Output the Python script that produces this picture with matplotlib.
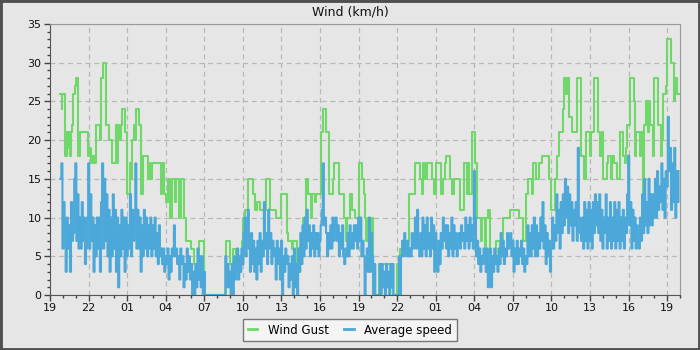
import matplotlib
matplotlib.use('Agg')
import matplotlib.pyplot as plt
from matplotlib.patches import Rectangle
from matplotlib.ticker import MultipleLocator

# hours since 19:00 on day one
tick_hours = [0, 3, 6, 9, 12, 15, 18, 21, 24, 27, 30, 33, 36, 39, 42, 45, 48]
tick_labels = ['19', '22', '01', '04', '07', '10', '13', '16', '19',
               '22', '01', '04', '07', '10', '13', '16', '19']

# wind gust: step change points (hour, km/h)
gust_hours = [0.8, 0.9, 0.97, 1.2, 1.3, 1.4, 1.5, 1.55, 1.6, 1.7, 1.75, 1.95, 2.05, 2.2, 2.35,
              2.95, 3.05, 3.2, 3.3, 3.45, 3.6, 3.85, 4.0, 4.1, 4.35, 4.6, 4.8, 5.1, 5.2, 5.3,
              5.4, 5.5, 5.6, 5.8, 5.95, 6.2, 6.3, 6.4, 6.5, 6.6, 6.7, 6.9, 7.1, 7.2, 7.6,
              7.7, 7.8, 7.9, 8.6, 8.7, 8.9, 9.0, 9.2, 9.3, 9.5, 9.7, 9.8, 10.0, 10.2, 10.4,
              10.6, 11.0, 11.2, 11.6, 12.0, 13.7, 14.0, 14.2, 14.5, 14.9, 15.0, 15.2, 15.4,
              15.8, 15.95, 16.1, 16.3, 16.8, 17.1, 17.6, 18.0, 18.4, 18.5, 18.8, 18.9, 19.2,
              19.4, 19.5, 19.7, 19.9, 20.05, 20.3, 20.4, 20.6, 20.7, 21.1, 21.25, 21.5, 21.7,
              22.0, 22.1, 22.5, 22.9, 23.0, 23.1, 23.3, 23.5, 23.7, 24.0, 24.3, 24.4, 24.5,
              24.6, 24.7, 24.9, 25.0, 25.1, 25.6, 26.7, 27.0, 27.15, 27.2, 27.5, 27.9, 28.4,
              28.8, 28.9, 29.0, 29.2, 29.3, 29.7, 29.9, 30.0, 30.4, 30.55, 30.7, 30.8, 31.1,
              31.3, 31.4, 31.9, 32.2, 32.4, 32.5, 32.6, 32.8, 33.05, 33.2, 33.5, 33.6, 33.8,
              33.9, 34.1, 34.2, 34.45, 34.7, 35.0, 35.2, 35.8, 36.5, 36.8, 37.0, 37.2, 37.5,
              37.6, 37.8, 38.0, 38.3, 38.8, 39.0, 39.3, 39.4, 39.6, 39.9, 40.0, 40.1, 40.2,
              40.4, 40.6, 41.0, 41.3, 41.5, 41.7, 42.0, 42.1, 42.3, 42.6, 42.8, 42.9, 43.0,
              43.3, 43.4, 43.6, 43.7, 43.9, 44.1, 44.3, 44.6, 44.7, 44.8, 44.9, 45.1, 45.4,
              45.5, 45.6, 45.9, 46.0, 46.1, 46.2, 46.35, 46.5, 46.6, 46.7, 46.9, 47.0, 47.3,
              47.5, 47.6, 47.7, 47.9, 48.0, 48.3, 48.5, 48.6, 48.75, 48.9]
gust_values = [26, 24, 26, 18, 21, 19, 21, 18, 21, 22, 26, 27, 28, 18, 21,
               18, 19, 17, 18, 17, 22, 20, 28, 30, 22, 20, 17, 22, 17, 22,
               20, 22, 24, 21, 13, 17, 15, 20, 22, 20, 24, 22, 13, 18, 15,
               17, 15, 17, 13, 17, 13, 12, 15, 10, 15, 12, 15, 10, 15, 10,
               7, 6, 4, 7, 0, 7, 4, 6, 4, 7, 10, 11, 15,
               13, 11, 12, 11, 15, 11, 10, 13, 8, 7, 6, 7, 4,
               6, 8, 10, 15, 13, 10, 13, 12, 13, 21, 24, 21, 13,
               15, 17, 13, 10, 7, 10, 13, 11, 10, 17, 15, 13, 10,
               7, 10, 6, 10, 0, 4, 0, 4, 3, 6, 7, 13, 17,
               15, 13, 17, 15, 17, 15, 13, 17, 13, 15, 17, 18, 15,
               13, 15, 11, 17, 13, 17, 13, 21, 17, 10, 7, 10, 6,
               10, 11, 4, 5, 7, 5, 10, 11, 10, 7, 13, 15, 13,
               17, 15, 17, 18, 15, 11, 15, 18, 21, 24, 28, 26, 28,
               23, 21, 28, 18, 15, 21, 18, 21, 28, 21, 18, 21, 15,
               17, 18, 15, 18, 17, 15, 21, 18, 17, 19, 22, 28, 25,
               18, 21, 18, 21, 13, 22, 25, 21, 25, 22, 18, 28, 22,
               18, 20, 26, 27, 33, 30, 25, 28, 26, 26]

# average speed: one reading every 5 minutes from 0.8 h, one row per hour
avg_start = 0.8
avg_values = [
    15, 17, 6, 12, 7, 3, 10, 6, 9, 3, 12, 7,
    8, 15, 17, 7, 13, 6, 10, 6, 12, 7, 10, 4,
    6, 10, 17, 6, 13, 7, 10, 3, 9, 5, 10, 6,
    10, 3, 12, 17, 6, 15, 7, 13, 5, 11, 3, 10,
    5, 13, 6, 11, 3, 10, 1, 9, 5, 11, 6, 10,
    3, 10, 5, 9, 6, 13, 5, 11, 7, 10, 17, 6,
    11, 6, 10, 3, 9, 5, 11, 6, 10, 5, 9, 6,
    10, 5, 9, 6, 10, 5, 8, 4, 9, 5, 6, 4,
    6, 3, 5, 4, 6, 2, 5, 3, 6, 5, 9, 5,
    6, 4, 5, 2, 6, 4, 5, 1, 4, 2, 6, 3,
    5, 2, 4, 0, 3, 0, 4, 1, 6, 2, 5, 1,
    5, 0, 3, 0, 0, 0, 0, 0, 0, 0, 0, 0,
    0, 0, 0, 0, 0, 0, 0, 0, 0, 0, 5, 1,
    4, 1, 3, 0, 4, 0, 5, 2, 4, 6, 2, 5,
    3, 6, 4, 8, 10, 5, 9, 11, 6, 3, 8, 4,
    7, 3, 6, 2, 7, 4, 8, 3, 7, 5, 12, 6,
    8, 4, 11, 6, 8, 4, 7, 5, 6, 2, 7, 4,
    6, 2, 7, 0, 5, 3, 6, 4, 5, 1, 4, 2,
    5, 0, 6, 1, 4, 0, 6, 3, 8, 4, 9, 5,
    10, 6, 11, 7, 9, 5, 8, 6, 9, 5, 8, 6,
    8, 5, 7, 9, 11, 17, 9, 10, 8, 5, 8, 6,
    9, 6, 10, 7, 9, 10, 7, 9, 5, 8, 6, 9,
    5, 4, 6, 5, 8, 5, 9, 6, 8, 6, 9, 7,
    9, 6, 10, 7, 10, 5, 7, 5, 0, 4, 6, 3,
    10, 3, 8, 5, 0, 4, 0, 0, 0, 0, 4, 0,
    4, 1, 3, 0, 4, 1, 3, 0, 4, 1, 4, 0,
    0, 0, 0, 0, 5, 0, 5, 7, 5, 8, 6, 5,
    7, 5, 6, 5, 8, 6, 7, 10, 6, 11, 7, 5,
    8, 5, 10, 6, 9, 5, 10, 6, 8, 5, 10, 6,
    9, 3, 8, 5, 3, 7, 4, 8, 6, 10, 7, 9,
    6, 9, 5, 8, 6, 10, 5, 9, 6, 8, 5, 7,
    8, 6, 9, 7, 8, 6, 10, 7, 9, 6, 10, 7,
    9, 6, 16, 10, 5, 7, 4, 6, 3, 5, 4, 6,
    5, 3, 6, 1, 4, 6, 1, 5, 3, 6, 4, 5,
    3, 6, 4, 8, 5, 7, 4, 6, 5, 8, 6, 7,
    8, 5, 7, 3, 6, 4, 7, 4, 6, 5, 7, 4,
    6, 3, 5, 4, 9, 5, 8, 5, 9, 6, 10, 5,
    9, 5, 8, 6, 10, 7, 12, 6, 9, 4, 8, 5,
    7, 3, 6, 10, 6, 9, 7, 13, 8, 11, 6, 12,
    8, 13, 9, 15, 10, 14, 8, 13, 9, 12, 7, 11,
    9, 12, 7, 19, 10, 8, 7, 10, 6, 12, 7, 11,
    6, 12, 7, 11, 6, 12, 8, 13, 9, 12, 8, 13,
    7, 11, 6, 10, 8, 13, 6, 10, 7, 12, 6, 10,
    7, 12, 6, 11, 7, 12, 6, 10, 7, 11, 6, 10,
    8, 13, 18, 9, 12, 6, 11, 7, 10, 6, 9, 7,
    6, 10, 7, 13, 8, 15, 9, 12, 8, 15, 9, 13,
    9, 13, 10, 15, 10, 16, 11, 14, 12, 17, 11, 15,
    10, 16, 14, 23, 16, 19, 11, 17, 12, 19, 10, 16,
    12, 16,
]
avg_hours = [avg_start + i / 12 for i in range(len(avg_values))]

bg = '#e6e6e6'
green = '#70d86a'
blue = '#4ca8d8'

fig = plt.figure(figsize=(7, 3.5), dpi=100, facecolor=bg)
ax = fig.add_axes([50 / 700, 1 - 295 / 350, 630 / 700, 271 / 350], facecolor=bg)

ax.step(gust_hours, gust_values, where='post', color=green, lw=1.5, label='Wind Gust')
ax.step(avg_hours, avg_values, where='post', color=blue, lw=1.5, label='Average speed')

ax.set_xlim(0, 49)
ax.set_ylim(0, 35)
ax.set_xticks(tick_hours)
ax.set_xticklabels(tick_labels)
ax.xaxis.set_minor_locator(MultipleLocator(1))
ax.yaxis.set_major_locator(MultipleLocator(5))
ax.yaxis.set_minor_locator(MultipleLocator(1))
ax.tick_params(which='major', length=4, width=1, color='#444', labelsize=8, labelcolor='#111', pad=2)
ax.tick_params(which='minor', length=2.5, width=1, color='#444')
ax.grid(True, which='major', color='#b8b8b8', ls=(0, (4, 3)), lw=0.9)
for side in ['left', 'bottom']:
    ax.spines[side].set_color('#555')
for side in ['top', 'right']:
    ax.spines[side].set_color('#999')

fig.text(0.5, 1 - 12 / 350, 'Wind (km/h)', ha='center', va='center', fontsize=9, color='#111')

leg = fig.legend(loc='lower center', bbox_to_anchor=(0.5, 0.008), ncol=2, fontsize=8.5,
                 frameon=True, fancybox=False, handlelength=0.8, handletextpad=0.9,
                 columnspacing=1.3, borderpad=0.4)
leg.get_frame().set_facecolor('#f4f4f4')
leg.get_frame().set_edgecolor('#777')
leg.get_frame().set_alpha(1)
for line in leg.get_lines():
    line.set_linewidth(2)

fig.patches.append(Rectangle((0, 0), 1, 1, transform=fig.transFigure, fill=False,
                             edgecolor='#505050', lw=3.5, zorder=10))

fig.savefig('out.png', dpi=100, facecolor=bg)
